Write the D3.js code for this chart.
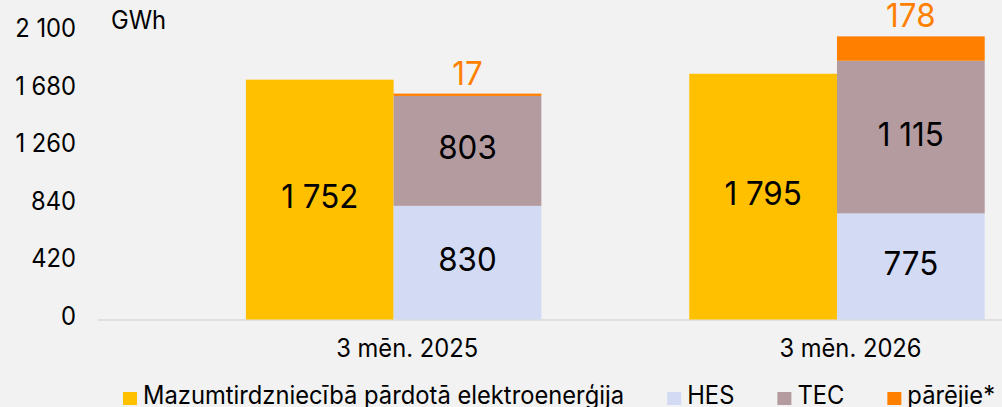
<!DOCTYPE html>
<html><head><meta charset="utf-8">
<script src="https://cdn.jsdelivr.net/npm/d3@7"></script>
<style>
html,body{margin:0;padding:0;background:#f2f2f2;}
svg{display:block;}
text{font-family:Inter,"Noto Sans",sans-serif;}
</style>
</head><body>
<svg id="c" width="1002" height="407"></svg>
<script>
const categories = ["3 mēn. 2025", "3 mēn. 2026"];
const retail = [1752, 1795];
const hes = [830, 775];
const tec = [803, 1115];
const other = [17, 178];
const seriesNames = ["Mazumtirdzniecībā pārdotā elektroenerģija", "HES", "TEC", "pārējie*"];
const yTicks = [0, 420, 840, 1260, 1680, 2100];
const unitLabel = "GWh";
const colors = ["#FFC000", "#D3DAF4", "#B49BA0", "#FF7F00"];

const SX = 0.95; // horizontal text compression
const svg = d3.select("#c");
const loc = d3.formatLocale({decimal: ",", thousands: "\u00A0", grouping: [3], currency: ["", ""]});
const fmt = loc.format(",d");

const y = d3.scaleLinear().domain([0, 2100]).range([319.5, 32]);
const x = d3.scaleBand().domain(categories).range([98, 1132.6]).paddingInner(0.3336).paddingOuter(0.3336);
const x1 = d3.scaleBand().domain(["retail", "gen"]).range([0, x.bandwidth()]);

function sq(sel) {
  sel.each(function () {
    const t = d3.select(this);
    const tx = +t.attr("x") || 0, ty = +t.attr("y") || 0;
    t.attr("x", 0).attr("y", 0).attr("transform", `translate(${tx},${ty}) scale(${SX},1)`);
  });
  return sel;
}

// baseline
svg.append("line").attr("x1", 98).attr("x2", 1002).attr("y1", y(0) + 0.5).attr("y2", y(0) + 0.5)
  .attr("stroke", "#d9d9d9").attr("stroke-width", 1.5);

// y axis
const ax = svg.append("g").attr("transform", "translate(76,0)")
  .call(d3.axisLeft(y).tickValues(yTicks).tickSize(0).tickPadding(0).tickFormat(fmt));
ax.select(".domain").remove();
ax.selectAll("text").attr("font-size", 25).attr("font-family", "Inter").attr("fill", "#000")
  .attr("dy", null).attr("x", 0).attr("y", 4.6).attr("transform", `scale(${SX},1)`);

svg.append("text").attr("x", 111).attr("y", 29).attr("font-size", 25).text(unitLabel).call(sq);

// data
const data = categories.map((c, i) => ({cat: c, retail: retail[i], hes: hes[i], tec: tec[i], other: other[i]}));
const stack = d3.stack().keys(["hes", "tec", "other"])(data);

const g = svg.append("g");
g.selectAll(".r").data(data).join("rect")
  .attr("x", d => x(d.cat) + x1("retail")).attr("width", x1.bandwidth())
  .attr("y", d => y(d.retail)).attr("height", d => y(0) - y(d.retail)).attr("fill", colors[0]);
stack.forEach((s, k) => {
  g.selectAll(".s" + k).data(s).join("rect")
    .attr("x", d => x(d.data.cat) + x1("gen")).attr("width", x1.bandwidth())
    .attr("y", d => y(d[1])).attr("height", d => y(d[0]) - y(d[1])).attr("fill", colors[k + 1]);
});

const VF = 33;
const lab = svg.append("g").attr("font-size", VF).attr("text-anchor", "middle");
lab.selectAll(".rl").data(data).join("text")
  .attr("x", d => x(d.cat) + x1("retail") + x1.bandwidth() / 2)
  .attr("y", d => (y(0) + y(d.retail)) / 2 + 0.26 * VF).text(d => fmt(d.retail)).call(sq);
stack.slice(0, 2).forEach(s => {
  lab.selectAll(null).data(s).join("text")
    .attr("x", d => x(d.data.cat) + x1("gen") + x1.bandwidth() / 2)
    .attr("y", d => (y(d[0]) + y(d[1])) / 2 + 0.26 * VF).text(d => fmt(d[1] - d[0])).call(sq);
});
lab.selectAll(null).data(stack[2]).join("text")
  .attr("x", d => x(d.data.cat) + x1("gen") + x1.bandwidth() / 2)
  .attr("y", d => y(d[1]) - 9).attr("fill", colors[3]).text(d => fmt(d[1] - d[0])).call(sq);

svg.append("g").attr("font-size", 25).attr("text-anchor", "middle")
  .selectAll("text").data(categories).join("text")
  .attr("x", d => x(d) + x.bandwidth() / 2 + 13.5).attr("y", 357).text(d => d).call(sq);

const leg = svg.append("g");
let lx = 123;
seriesNames.forEach((n, i) => {
  leg.append("rect").attr("x", lx).attr("y", 392).attr("width", 14).attr("height", 13).attr("fill", colors[i]);
  const t = leg.append("text").attr("x", lx + 20).attr("y", 404).attr("font-size", 25).text(n);
  const w = t.node().getComputedTextLength() * SX;
  t.call(sq);
  lx += 20 + w + 43;
});
</script>
</body></html>
